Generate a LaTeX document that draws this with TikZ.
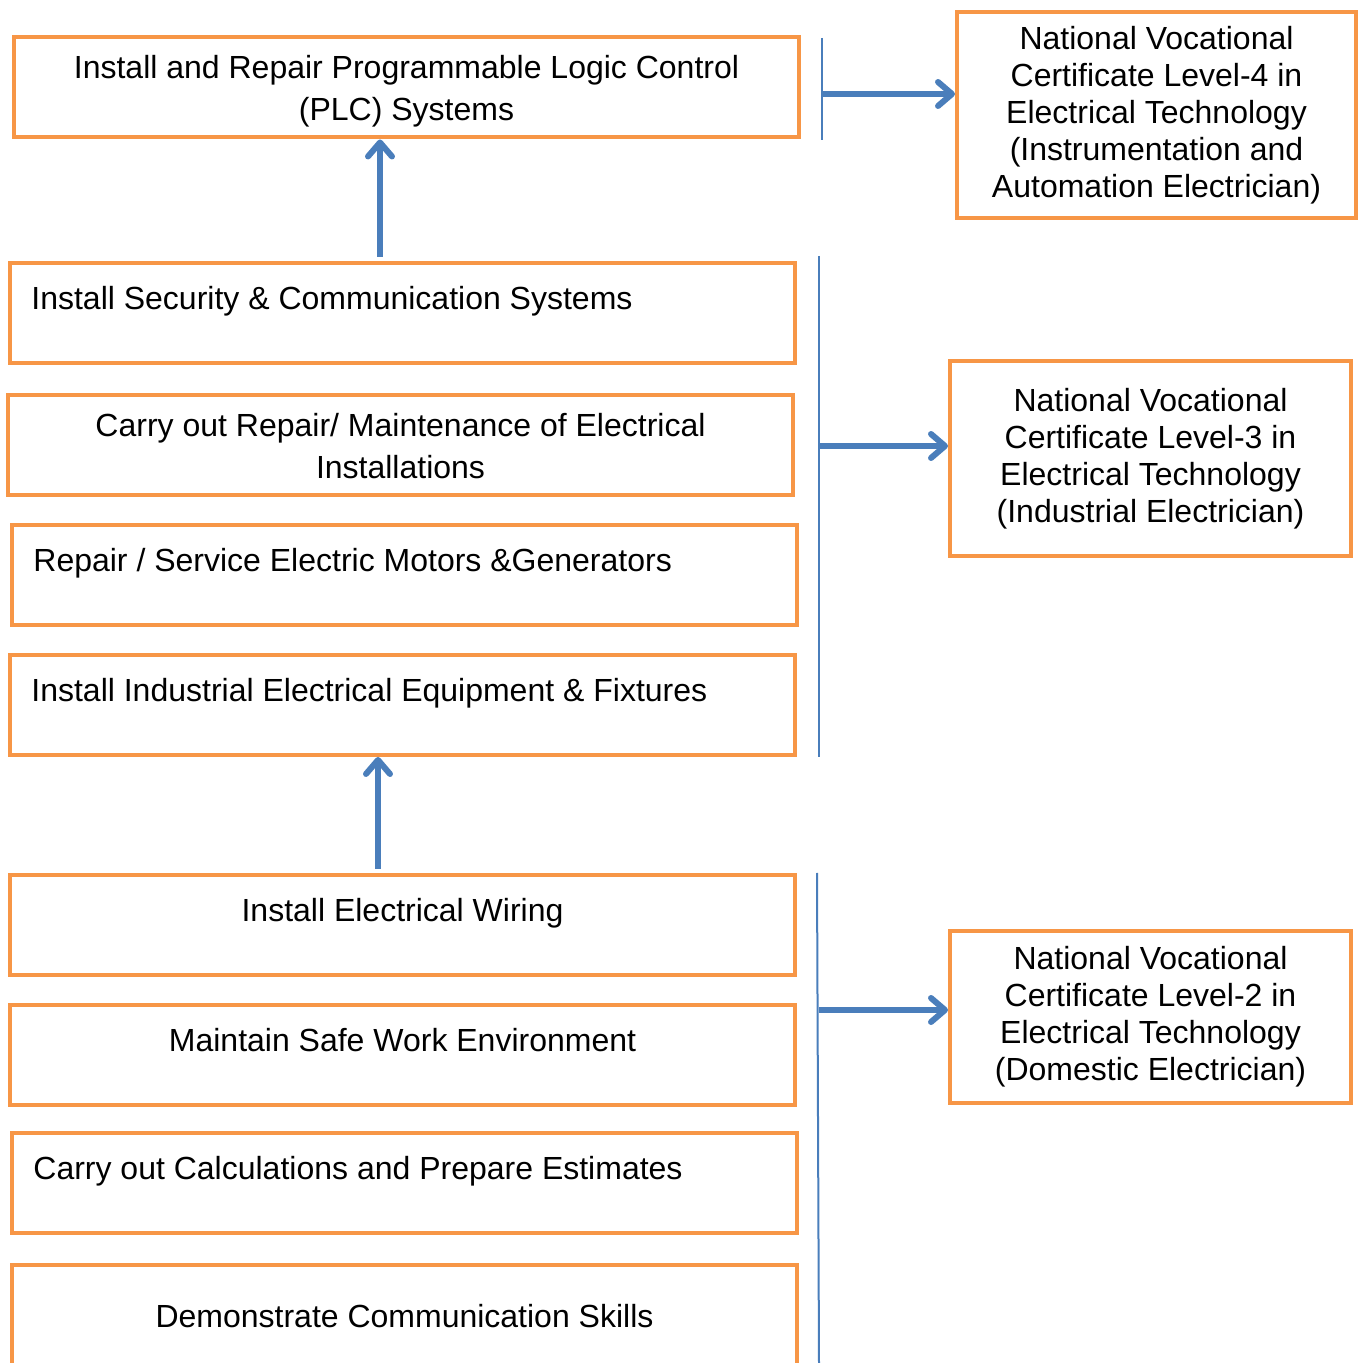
\documentclass[tikz,border=0pt]{standalone}
\usepackage{fontspec}
\setmainfont{Liberation Sans}
\usetikzlibrary{positioning}
\usetikzlibrary{arrows.meta}
\definecolor{boxorange}{HTML}{F79646}
\definecolor{linkblue}{HTML}{4A7EBB}
\tikzset{
	every node/.style = {font=\fontsize{16}{21}\selectfont},
	unitbox/.style = {draw=boxorange, line width=2pt, minimum width=392.5pt, minimum height=50pt, inner sep=0pt},
	levelbox/.style = {draw=boxorange, line width=2pt, inner sep=0pt, align=center, font=\fontsize{16}{18.5}\selectfont},
	unittext/.style = {inner sep=0pt, align=center},
	bar/.style = {draw=linkblue, line width=1pt},
	link/.style = {draw=linkblue, line width=3pt, -{Straight Barb[length=7pt,width=12pt,line cap=round,line join=round]}}
}

\begin{document}
\begin{tikzpicture}[x=0.5pt, y=-0.5pt]
		\useasboundingbox (0,0) rectangle (1367,1363);
		% units, level 4
		\node[unitbox] (b1) at (406.5,87.5) {};
		\node[unittext] (t1) at (406.5,91) {Install and Repair Programmable Logic Control\\(PLC) Systems};
		% units, level 3
		\node[unitbox] (b2) at (402.5,313.5) {};
		\node[unittext, anchor=west] (t2) at (31,301) {Install Security \& Communication Systems};
		\node[unitbox] (b3) at (400.5,445.5) {};
		\node[unittext] (t3) at (400.5,446) {Carry out Repair/ Maintenance of Electrical\\Installations};
		\node[unitbox] (b4) at (404.5,575) {};
		\node[unittext, anchor=west] (t4) at (33,563) {Repair / Service Electric Motors \&Generators};
		\node[unitbox] (b5) at (402.5,705) {};
		\node[unittext, anchor=west] (t5) at (31,693) {Install Industrial Electrical Equipment \& Fixtures};
		% units, level 2
		\node[unitbox] (b6) at (402.5,925) {};
		\node[unittext] (t6) at (402.5,913) {Install Electrical Wiring};
		\node[unitbox] (b7) at (402.5,1055) {};
		\node[unittext] (t7) at (402.5,1040) {Maintain Safe Work Environment};
		\node[unitbox] (b8) at (404.5,1183) {};
		\node[unittext, anchor=west] (t8) at (33,1171) {Carry out Calculations and Prepare Estimates};
		\node[unitbox] (b9) at (404.5,1315) {};
		\node[unittext] (t9) at (404.5,1316) {Demonstrate Communication Skills};
		% certificates
		\node[levelbox, minimum width=199.5pt, minimum height=103pt] (r1) at (1156.5,115) {National Vocational\\Certificate Level-4 in\\Electrical Technology\\(Instrumentation and\\Automation Electrician)};
		\node[levelbox, minimum width=200.5pt, minimum height=97.5pt] (r2) at (1150.5,458.5) {National Vocational\\Certificate Level-3 in\\Electrical Technology\\(Industrial Electrician)};
		\node[levelbox, minimum width=200.5pt, minimum height=86pt] (r3) at (1150.5,1017) {National Vocational\\Certificate Level-2 in\\Electrical Technology\\(Domestic Electrician)};
		% brackets
		\coordinate (u1) at (822,38);
		\coordinate (d1) at (822,140);
		\coordinate (u2) at (819,256);
		\coordinate (d2) at (819,757);
		\coordinate (u3) at (817,873);
		\coordinate (d3) at (819,1363);
		\draw[bar] (u1) -- (d1);
		\draw[bar] (u2) -- (d2);
		\draw[bar] (u3) -- (d3);
		% links to certificates
		\coordinate (s1) at (822,94);
		\coordinate (s2) at (819,446);
		\coordinate (s3) at (819,1010);
		\draw[link] (s1) -- (s1 -| r1.west);
		\draw[link] (s2) -- (s2 -| r2.west);
		\draw[link] (s3) -- (s3 -| r3.west);
		% progression
		\coordinate (p1) at (380,257);
		\coordinate (p2) at (378,869);
		\draw[link] (p1) -- (p1 |- b1.south);
		\draw[link] (p2) -- (p2 |- b5.south);
	\end{tikzpicture}
\end{document}
